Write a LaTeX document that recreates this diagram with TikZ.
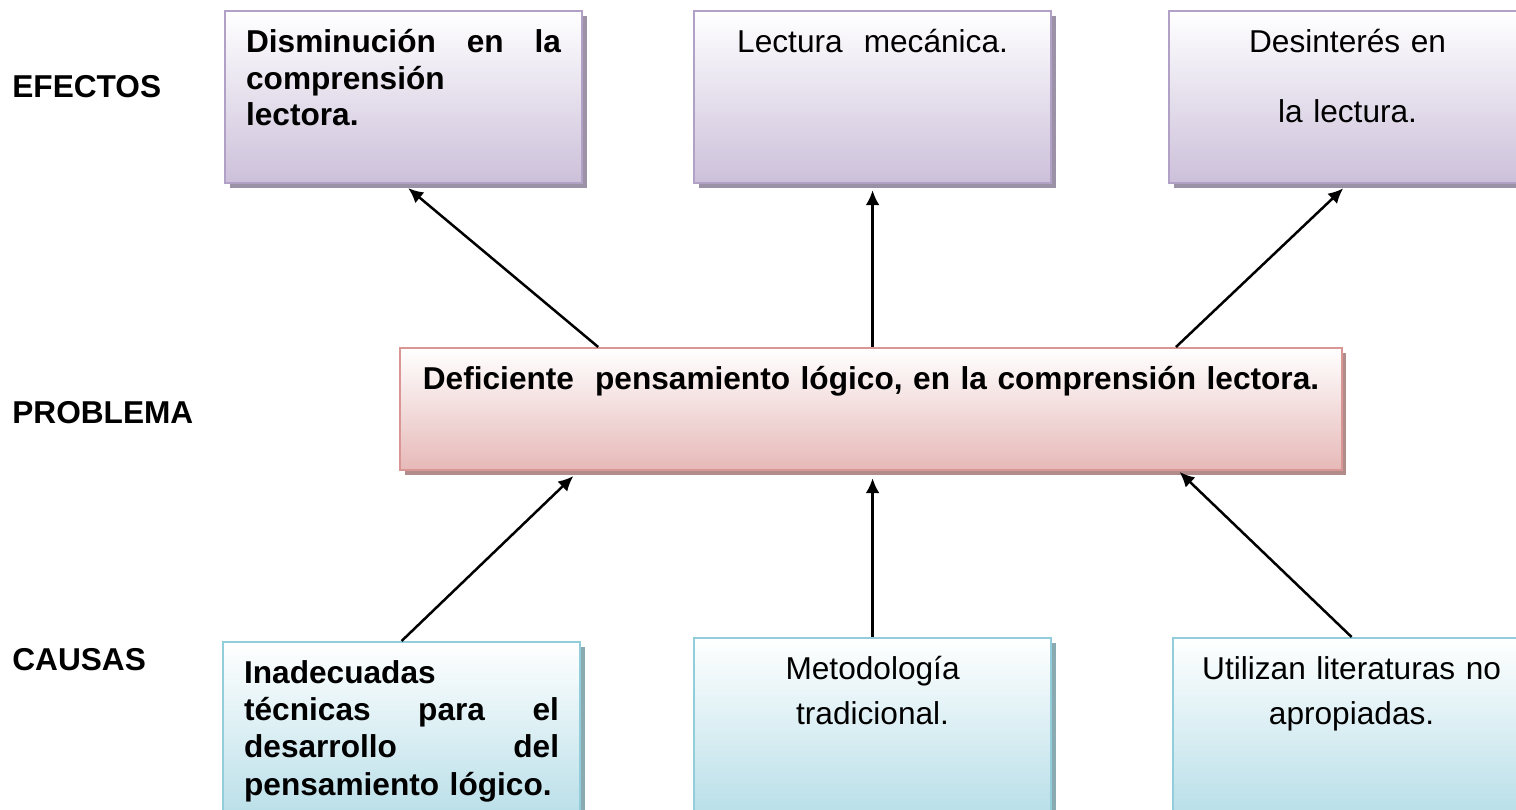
\documentclass[tikz,border=0pt]{standalone}
\usepackage{fontspec}
\setmainfont{Liberation Sans}
\usetikzlibrary{arrows.meta}
\usetikzlibrary{calc, shadows}
\definecolor{lila}{RGB}{178,161,199}
\definecolor{lila-fill}{RGB}{204,192,218}
\definecolor{rosa}{RGB}{217,150,148}
\definecolor{rosa-fill}{RGB}{230,185,184}
\definecolor{celeste}{RGB}{146,205,220}
\definecolor{celeste-fill}{RGB}{183,222,232}

\tikzset{
    caja/.style={draw=#1, line width=0.045cm, top color=white, bottom color=#1-fill,
        anchor=north west, inner xsep=0.42cm, inner ysep=0pt, text width=6.3cm,
        text height=0.82cm, font=\fontsize{18}{21}\selectfont,
        drop shadow={shadow xshift=0.09cm, shadow yshift=-0.09cm, fill=#1!55!gray, opacity=1}},
    efecto/.style={caja=lila, text depth=2.62cm},
    causa/.style={caja=celeste, text depth=2.78cm},
    rotulo/.style={anchor=west, inner sep=0pt, font=\bfseries\fontsize{18}{21}\selectfont},
    flecha/.style={line width=0.05cm, -{Latex[length=0.3cm, width=0.28cm]}}
}

\begin{document}
\begin{tikzpicture}[x=0.02cm, y=-0.02cm]

    \clip (0,0) rectangle (1516,809);
    \fill[white] (0,0) rectangle (1516,809);

    \node[rotulo] (lefe) at (12,87) {EFECTOS};
    \node[rotulo] (lpro) at (12,413) {PROBLEMA};
    \node[rotulo] (lcau) at (12,660) {CAUSAS};

    % efectos
    \node[efecto, align=left, font=\bfseries\fontsize{18}{21}\selectfont] (ef1) at (224,10)
        {Disminución\hfill en\hfill la\\comprensión\\lectora.};
    \node[efecto, align=center] (ef2) at (693,10) {Lectura\ \ mecánica.};
    \node[efecto, align=center] (ef3) at (1168,10) {Desinterés en\\[18.8pt]la lectura.};

    % problema
    \node[caja=rosa, text depth=1.62cm, inner xsep=0.12cm, text width=18.6cm, align=center,
        font=\bfseries\fontsize{18}{21}\selectfont] (prob) at (399,347)
        {Deficiente\ \ pensamiento lógico, en la comprensión lectora.};

    % causas
    \node[causa, align=left, font=\bfseries\fontsize{18}{21.3}\selectfont] (c1) at (222,641)
        {Inadecuadas\\técnicas\hfill para\hfill el\\desarrollo\hfill del\\pensamiento lógico.};
    \node[causa, align=center] (c2) at (693,637) {Metodología\\[4.6pt]tradicional.};
    \node[causa, align=center] (c3) at (1172,637) {Utilizan literaturas no\\[4.6pt]apropiadas.};

    \draw[flecha, shorten >=0.12cm] ($(prob.north west)!0.211!(prob.north east)$) -- (ef1.south);
    \draw[flecha, shorten >=0.12cm] (ef2.south |- prob.north) -- (ef2.south);
    \draw[flecha, shorten >=0.12cm] ($(prob.north west)!0.823!(prob.north east)$) -- (ef3.south);

    \draw[flecha, shorten >=0.14cm] (c1.north) -- ($(prob.south west)!0.19!(prob.south east)$);
    \draw[flecha, shorten >=0.14cm] (c2.north) -- (c2.north |- prob.south);
    \draw[flecha, shorten >=0.02cm] (c3.north) -- ($(prob.south west)!0.826!(prob.south east)$);

\end{tikzpicture}
\end{document}
